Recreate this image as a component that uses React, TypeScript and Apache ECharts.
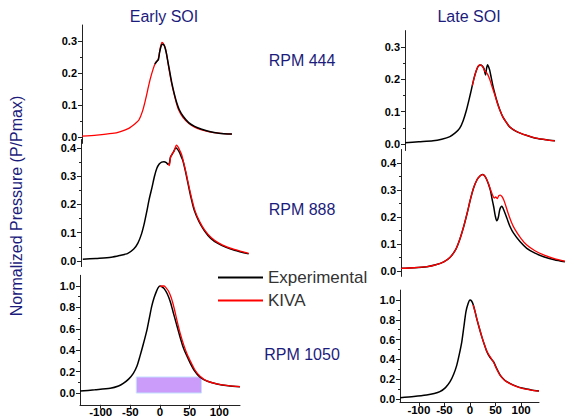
import React, { useEffect, useRef } from 'react';
import * as echarts from 'echarts';

// ---- tick labels ----
const xTickLabels = [-100, -50, 0, 50, 100];
const yTicksSmall = [0, 0.1, 0.2, 0.3];
const yMinorSmall = [0.05, 0.15, 0.25];
const yTicksMid = [0, 0.1, 0.2, 0.3, 0.4];
const yMinorMid = [0.05, 0.15, 0.25, 0.35];
const yTicksBig = [0, 0.2, 0.4, 0.6, 0.8, 1.0];
const yMinorBig = [0.1, 0.3, 0.5, 0.7, 0.9];

// ---- categories / labels ----
const columnTitles = ['Early SOI', 'Late SOI'];
const rpmLabels = ['RPM 444', 'RPM 888', 'RPM 1050'];
const seriesNames = ['Experimental', 'KIVA'];
const yAxisTitle = 'Normalized Pressure (P/Pmax)';

// ---- Early SOI, RPM 444 ----
const kiva444E = [
  [-135, 0.003], [-110, 0.006], [-84, 0.011], [-70, 0.017], [-56, 0.027], [-45, 0.042],
  [-39, 0.053], [-33, 0.08], [-28, 0.115], [-24, 0.148], [-20, 0.18], [-15, 0.212],
  [-11, 0.232], [-7, 0.24], [-5, 0.255], [-3, 0.278], [0, 0.296], [3, 0.29], [6, 0.275],
  [9, 0.245], [12, 0.21], [16, 0.17], [20, 0.137], [24, 0.108], [28, 0.085], [35, 0.062],
  [45, 0.043], [55, 0.031], [67, 0.022], [80, 0.016], [96, 0.012], [118, 0.009]
];
const exp444E = [
  [-12, 0.228], [-8, 0.238], [-6, 0.242], [-4, 0.265], [-1, 0.287], [1, 0.29], [4, 0.285],
  [7, 0.265], [10, 0.235], [13, 0.205], [17, 0.165], [21, 0.133], [25, 0.106], [29, 0.086],
  [36, 0.064], [45, 0.045], [55, 0.033], [67, 0.024], [80, 0.017], [96, 0.012], [118, 0.009]
];

// ---- Early SOI, RPM 888 ----
const exp888E = [
  [-132, 0.006], [-110, 0.009], [-84, 0.013], [-70, 0.019], [-56, 0.027], [-46, 0.042],
  [-39, 0.063], [-33, 0.095], [-28, 0.135], [-24, 0.175], [-20, 0.218], [-15, 0.262],
  [-11, 0.3], [-7, 0.328], [-3, 0.343], [1, 0.35], [5, 0.351], [9, 0.348], [12, 0.342],
  [14, 0.345], [16, 0.368], [19, 0.378], [22, 0.39], [25, 0.401], [28, 0.395], [31, 0.385],
  [34, 0.37], [37, 0.355], [41, 0.32], [45, 0.28], [50, 0.23], [56, 0.18], [64, 0.14],
  [73, 0.108], [84, 0.08], [96, 0.062], [110, 0.048], [124, 0.038], [148, 0.025]
];
const kiva888E = [
  [12, 0.343], [14, 0.338], [16, 0.365], [19, 0.38], [22, 0.388], [26, 0.41], [29, 0.403],
  [32, 0.39], [35, 0.375], [38, 0.35], [42, 0.315], [46, 0.275], [51, 0.228], [57, 0.18],
  [65, 0.14], [74, 0.108], [85, 0.082], [97, 0.064], [111, 0.05], [125, 0.04], [148, 0.027]
];

// ---- Early SOI, RPM 1050 ----
const exp1050E = [
  [-135, 0.018], [-110, 0.03], [-84, 0.044], [-70, 0.065], [-62, 0.09], [-53, 0.13],
  [-45, 0.184], [-39, 0.25], [-34, 0.34], [-28, 0.46], [-22, 0.59], [-18, 0.7], [-14, 0.81],
  [-10, 0.89], [-6, 0.95], [-3, 0.985], [0, 1.0], [4, 0.99], [7, 0.975], [12, 0.93],
  [17, 0.86], [22, 0.76], [28, 0.64], [33, 0.54], [39, 0.43], [45, 0.35], [51, 0.28],
  [58, 0.21], [67, 0.15], [80, 0.11], [96, 0.085], [115, 0.068], [135, 0.058]
];
const kiva1050E = [
  [0, 0.995], [3, 1.0], [7, 1.0], [10, 0.985], [14, 0.955], [19, 0.89], [24, 0.79],
  [29, 0.67], [34, 0.56], [40, 0.45], [46, 0.36], [52, 0.29], [59, 0.215], [68, 0.155],
  [80, 0.112], [96, 0.086], [115, 0.069], [135, 0.06]
];
const injectionWindow = [[-40, 0], [70, 0.15]];

// ---- Late SOI, RPM 444 ----
const exp444L = [
  [-127, 0.004], [-100, 0.007], [-72, 0.01], [-55, 0.015], [-39, 0.023], [-28, 0.035],
  [-20, 0.048], [-13, 0.072], [-6.5, 0.105], [-1, 0.14], [3, 0.167], [7, 0.195], [10, 0.213],
  [13, 0.228], [16, 0.239], [19, 0.243], [22, 0.244], [25, 0.24], [28, 0.232], [30, 0.218],
  [31, 0.213], [33, 0.235], [35, 0.245], [37, 0.238], [39, 0.228], [42, 0.205], [45, 0.182],
  [49, 0.156], [54, 0.128], [59, 0.105], [65, 0.083], [72, 0.066], [78, 0.053], [90, 0.04],
  [100, 0.033], [111, 0.027], [130, 0.018], [150, 0.013], [167, 0.01]
];
const kiva444L = [
  [5, 0.18], [8, 0.2], [11, 0.218], [14, 0.232], [17, 0.241], [20, 0.244], [23, 0.242],
  [26, 0.236], [29, 0.226], [32, 0.222], [35, 0.215], [39, 0.2], [44, 0.175], [49, 0.152],
  [54, 0.126], [59, 0.104], [65, 0.083], [72, 0.066], [78, 0.053], [90, 0.04], [100, 0.033],
  [111, 0.027], [130, 0.018], [150, 0.013], [167, 0.01]
];

// ---- Late SOI, RPM 888 ----
const exp888L = [
  [-136, 0.01], [-110, 0.012], [-85, 0.016], [-68, 0.023], [-52, 0.034], [-40, 0.05],
  [-29, 0.078], [-21, 0.115], [-13, 0.164], [-6, 0.215], [0, 0.263], [6, 0.305], [13, 0.337],
  [19, 0.352], [24, 0.357], [28, 0.353], [32, 0.34], [36, 0.32], [40, 0.295], [43, 0.265],
  [46, 0.238], [49, 0.205], [52, 0.186], [55, 0.198], [58, 0.228], [62, 0.24], [66, 0.225],
  [72, 0.195], [78, 0.165], [85, 0.14], [98, 0.108], [111, 0.084], [127, 0.066], [144, 0.053],
  [165, 0.042], [186, 0.034]
];
const kiva888L = [
  [-136, 0.01], [-110, 0.012], [-85, 0.016], [-68, 0.023], [-52, 0.034], [-40, 0.05],
  [-29, 0.078], [-21, 0.115], [-13, 0.164], [-6, 0.215], [0, 0.263], [6, 0.305], [13, 0.337],
  [19, 0.352], [24, 0.357], [28, 0.353], [32, 0.34], [36, 0.322], [40, 0.3], [44, 0.28],
  [47, 0.27], [50, 0.274], [53, 0.268], [56, 0.279], [59, 0.281], [62, 0.276], [66, 0.262],
  [70, 0.24], [75, 0.21], [81, 0.18], [88, 0.153], [99, 0.122], [111, 0.096], [127, 0.075],
  [144, 0.06], [165, 0.046], [186, 0.036]
];

// ---- Late SOI, RPM 1050 ----
const exp1050L = [
  [-137, 0.013], [-110, 0.025], [-85, 0.04], [-70, 0.055], [-59, 0.074], [-48, 0.115],
  [-39, 0.175], [-32, 0.25], [-26, 0.34], [-21, 0.45], [-16, 0.58], [-12, 0.73], [-8, 0.88],
  [-4, 0.96], [0, 1.0], [3, 0.99], [6.5, 0.95], [10, 0.88], [13, 0.815], [18, 0.72],
  [23, 0.63], [28, 0.55], [33, 0.478], [39, 0.42], [46, 0.377], [52, 0.31], [59, 0.242],
  [68, 0.19], [78, 0.158], [90, 0.13], [104, 0.108], [120, 0.092], [135, 0.08]
];
const kiva1050L = [
  [6, 0.95], [10, 0.88], [13, 0.818], [18, 0.722], [23, 0.632], [28, 0.552], [33, 0.482],
  [39, 0.43], [46, 0.372], [52, 0.305], [59, 0.238], [68, 0.188], [78, 0.156], [90, 0.128],
  [104, 0.106], [120, 0.091], [135, 0.08]
];

const NAVY = '#1c1c7c';
const BLACK = '#000000';
const RED = '#ff0000';
const FONT = 'Arial, Liberation Sans, sans-serif';

export default function App() {
  const ref = useRef<HTMLDivElement>(null);

  useEffect(() => {
    document.body.style.margin = '0';
    const chart = echarts.init(ref.current!, null, { renderer: 'svg' });

    const panels = [
      { grid: { left: 82, top: 25, width: 160, height: 118.4 }, x: [-135, 135], y: [-0.02, 0.35], ticks: yTicksSmall, minor: yMinorSmall, showX: false,
        series: [{ name: seriesNames[1], data: kiva444E }, { name: seriesNames[0], data: exp444E }] },
      { grid: { left: 81, top: 139.5, width: 168, height: 127.1 }, x: [-135, 148.5], y: [-0.02, 0.43], ticks: yTicksMid, minor: yMinorMid, showX: false,
        series: [{ name: seriesNames[0], data: exp888E }, { name: seriesNames[1], data: kiva888E }] },
      { grid: { left: 80, top: 275.3, width: 160, height: 129.5 }, x: [-135, 135], y: [-0.11, 1.1], ticks: yTicksBig, minor: yMinorBig, showX: true,
        series: [{ name: seriesNames[0], data: exp1050E, area: true }, { name: seriesNames[1], data: kiva1050E }] },
      { grid: { left: 405, top: 30.6, width: 150, height: 119.9 }, x: [-127, 167], y: [-0.02, 0.35], ticks: yTicksSmall, minor: yMinorSmall, showX: false,
        series: [{ name: seriesNames[0], data: exp444L }, { name: seriesNames[1], data: kiva444L }] },
      { grid: { left: 401, top: 149.5, width: 164, height: 126.9 }, x: [-136, 186], y: [-0.02, 0.45], ticks: yTicksMid, minor: yMinorMid, showX: false,
        series: [{ name: seriesNames[0], data: exp888L }, { name: seriesNames[1], data: kiva888L }] },
      { grid: { left: 400, top: 290.1, width: 139, height: 111.9 }, x: [-137, 135], y: [-0.03, 1.1], ticks: yTicksBig, minor: yMinorBig, showX: true,
        series: [{ name: seriesNames[0], data: exp1050L }, { name: seriesNames[1], data: kiva1050L }] },
    ];

    const grids: any[] = [];
    const xAxes: any[] = [];
    const yAxes: any[] = [];
    const series: any[] = [];
    const labelStyle = { color: '#000', fontWeight: 'bold', fontSize: 11, lineHeight: 10, fontFamily: FONT };

    panels.forEach((p, i) => {
      grids.push({ ...p.grid, outerBoundsMode: 'none', containLabel: false });
      xAxes.push({
        type: 'value', gridIndex: i, min: p.x[0], max: p.x[1], show: p.showX,
        axisLine: { show: true, onZero: false, lineStyle: { color: '#222', width: 1 } },
        axisTick: { show: true, inside: false, length: 4, customValues: xTickLabels, lineStyle: { color: '#222' } },
        axisLabel: { ...labelStyle, fontSize: 11.5, lineHeight: 11, customValues: xTickLabels, margin: 2, formatter: (v: number) => String(v) },
        splitLine: { show: false },
      });
      yAxes.push({
        type: 'value', gridIndex: i, min: p.y[0], max: p.y[1], position: 'left',
        axisLine: { show: true, onZero: false, lineStyle: { color: '#222', width: 1 } },
        axisTick: { show: true, inside: false, length: 4, customValues: p.ticks, lineStyle: { color: '#222' } },
        axisLabel: { ...labelStyle, customValues: p.ticks, margin: 5, formatter: (v: number) => v.toFixed(1) },
        splitLine: { show: false },
      });
      yAxes.push({
        type: 'value', gridIndex: i, min: p.y[0], max: p.y[1], position: 'left',
        axisLine: { show: false, onZero: false },
        axisTick: { show: true, inside: false, length: 2, customValues: p.minor, lineStyle: { color: '#222' } },
        axisLabel: { show: false },
        splitLine: { show: false },
      });
      p.series.forEach((s: any) => {
        const isExp = s.name === seriesNames[0];
        const ser: any = {
          type: 'line', name: s.name, xAxisIndex: i, yAxisIndex: i * 2, data: s.data,
          showSymbol: false, symbol: 'none', smooth: 0.25,
          lineStyle: { color: isExp ? BLACK : RED, width: isExp ? 1.5 : 1.3 },
          itemStyle: { color: isExp ? BLACK : RED },
          silent: true,
        };
        if (s.area) {
          ser.markArea = {
            silent: true,
            itemStyle: { color: '#cc9cfa', borderColor: '#c4e2ff', borderWidth: 1, opacity: 1 },
            data: [[{ coord: injectionWindow[0] }, { coord: injectionWindow[1] }]],
          };
        }
        series.push(ser);
      });
    });

    const textStyle = (text: string, size: number) => ({
      text, fill: NAVY, fontSize: size, fontFamily: FONT,
      textAlign: 'center', textVerticalAlign: 'middle',
    });

    const option: any = {
      animation: false,
      grid: grids,
      xAxis: xAxes,
      yAxis: yAxes,
      series,
      legend: {
        data: seriesNames, orient: 'vertical', left: 213, top: 264, itemWidth: 45, itemHeight: 2,
        itemGap: 6, icon: 'rect', selectedMode: false,
        textStyle: { color: '#333', fontSize: 17, fontFamily: FONT },
      },
      graphic: [
        { type: 'text', x: 164, y: 16, style: textStyle(columnTitles[0], 16) },
        { type: 'text', x: 469, y: 16, style: textStyle(columnTitles[1], 16) },
        { type: 'text', x: 302, y: 60, style: textStyle(rpmLabels[0], 16) },
        { type: 'text', x: 302, y: 209, style: textStyle(rpmLabels[1], 16) },
        { type: 'text', x: 302, y: 354, style: textStyle(rpmLabels[2], 16) },
        { type: 'text', x: 16, y: 206, rotation: Math.PI / 2, style: textStyle(yAxisTitle, 16) },
      ],
    };

    chart.setOption(option);
    return () => chart.dispose();
  }, []);

  return <div ref={ref} style={{ width: 565, height: 419, position: 'absolute', left: 0, top: 0 }} />;
}
